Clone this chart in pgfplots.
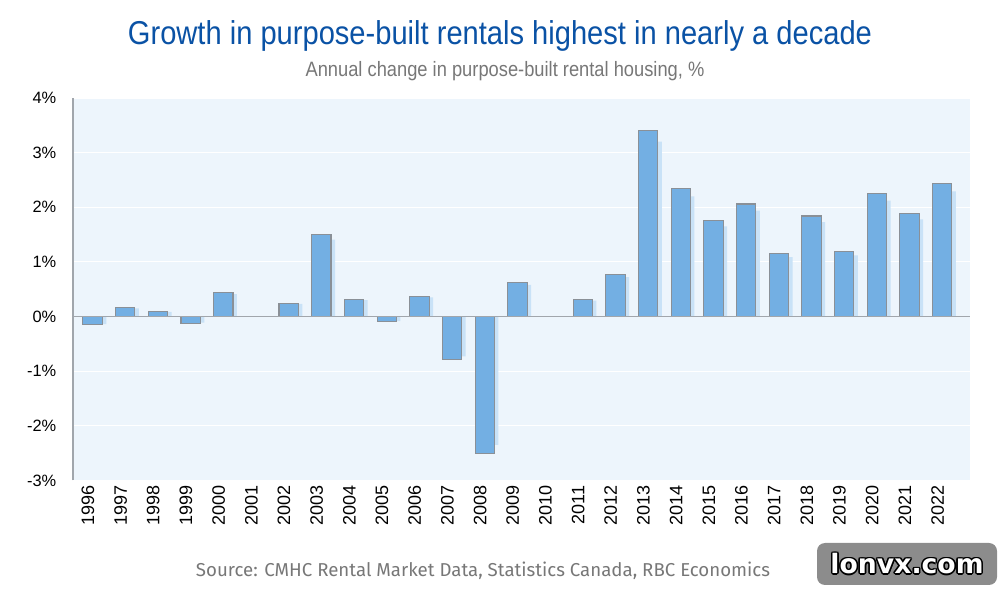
\documentclass[border=0pt]{standalone}
\usepackage{pgfplots}
\pgfplotsset{compat=1.18}
\usepackage{fontspec}
\setmainfont{Liberation Sans}
\newfontfamily\titlefont[FakeStretch=0.88]{Liberation Sans}
\newfontfamily\srcfont{Fira Sans}
\newfontfamily\wmfont{DejaVu Sans}
\definecolor{titleblue}{HTML}{0A52A5}
\definecolor{subgray}{HTML}{777777}
\definecolor{bgblue}{HTML}{EDF5FC}
\definecolor{barblue}{HTML}{73AFE3}
\definecolor{baredge}{HTML}{8A9097}
\definecolor{shadowblue}{HTML}{C9E2F7}
\definecolor{wmgray}{HTML}{8C8C8C}
\begin{document}
\begin{tikzpicture}
\path[use as bounding box] (0,0) rectangle (750pt,441.75pt);
\begin{axis}[
  at={(54.75pt,81.375pt)}, anchor=south west,
  scale only axis, width=672.75pt, height=286.875pt,
  xmin=-0.6, xmax=26.85, ymin=-3, ymax=4,
  axis background/.style={fill=bgblue},
  axis lines*=left,
  x axis line style={draw=none},
  y axis line style={draw=baredge!80, line width=0.8pt, -},
  ytick={-3,-2,...,4},
  yticklabel={\pgfmathprintnumber{\tick}\%},
  /pgf/number format/assume math mode=true,
  yticklabel style={font=\fontsize{12.3pt}{14pt}\selectfont, xshift=-9pt},
  major tick length=0pt,
  ymajorgrids, grid style={white, line width=0.8pt},
  xtick={0,...,26},
  xticklabels={1996,1997,1998,1999,2000,2001,2002,2003,2004,2005,2006,2007,2008,2009,2010,2011,2012,2013,2014,2015,2016,2017,2018,2019,2020,2021,2022},
  xticklabel style={rotate=90, anchor=east, inner sep=0pt, xshift=-3.5pt, yshift=3.5pt, font=\fontsize{13.5pt}{15pt}\selectfont},
  clip=false,
]
% shadow bars
\addplot[ybar, bar width=14.5pt, bar shift=3pt, fill=shadowblue, draw=none] coordinates {
(0,-0.14) (1,0.15) (2,0.085) (3,-0.11) (4,0.41) (5,0) (6,0.23) (7,1.41) (8,0.3) (9,-0.085) (10,0.35) (11,-0.73) (12,-2.35) (13,0.58) (14,0) (15,0.29) (16,0.72) (17,3.2) (18,2.2) (19,1.65) (20,1.94) (21,1.09) (22,1.73) (23,1.12) (24,2.12) (25,1.78) (26,2.29)
};
% main bars
\addplot[ybar, bar width=14.5pt, bar shift=0pt, fill=barblue, draw=baredge, line width=0.8pt] coordinates {
(0,-0.15) (1,0.16) (2,0.09) (3,-0.12) (4,0.44) (5,0) (6,0.24) (7,1.5) (8,0.32) (9,-0.09) (10,0.37) (11,-0.78) (12,-2.5) (13,0.62) (14,0) (15,0.31) (16,0.77) (17,3.4) (18,2.34) (19,1.76) (20,2.06) (21,1.16) (22,1.84) (23,1.19) (24,2.26) (25,1.89) (26,2.44)
};
\draw[baredge!80, line width=0.9pt] (axis cs:-0.6,0) -- (axis cs:26.85,0);
\end{axis}
\node[text=titleblue, font=\titlefont\fontsize{24.8pt}{28pt}\selectfont] at (375pt,414.75pt) {Growth in purpose-built rentals highest in nearly a decade};
\node[text=subgray, font=\titlefont\fontsize{15.6pt}{18pt}\selectfont] at (378.75pt,388.5pt) {Annual change in purpose-built rental housing, \%};
\node[text=subgray, font=\srcfont\fontsize{14pt}{16pt}\selectfont] at (362.25pt,13.5pt) {Source: CMHC Rental Market Data, Statistics Canada, RBC Economics};
% watermark
\fill[wmgray, rounded corners=6pt] (612.75pt,3pt) rectangle (747.75pt,34.5pt);
\foreach \dx/\dy in {-1.2/0,1.2/0,0/-1.2,0/1.2,-0.9/-0.9,0.9/0.9,-0.9/0.9,0.9/-0.9}{
  \node[text=black, font=\wmfont\bfseries\fontsize{20pt}{22pt}\selectfont] at ([xshift=\dx pt,yshift=\dy pt]680.25pt,19pt) {lonvx.com};
}
\node[text=white, font=\wmfont\bfseries\fontsize{20pt}{22pt}\selectfont] at (680.25pt,19pt) {lonvx.com};
\end{tikzpicture}
\end{document}
